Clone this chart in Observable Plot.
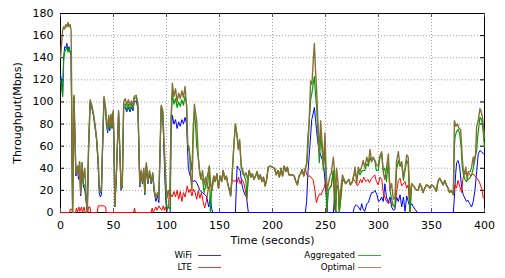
<!DOCTYPE html>
<html><head><meta charset="utf-8">
<script src="https://cdn.jsdelivr.net/npm/d3@7"></script>
<script src="https://cdn.jsdelivr.net/npm/@observablehq/plot@0.6"></script>
<style>
body{margin:0;background:#fff;}
#chart{width:505px;height:278px;position:relative;font-family:"DejaVu Sans",sans-serif;background:#fff;}
#chart svg{display:block;}
</style>
</head><body><div id="chart"></div>
<script>
const xTicks = [0, 50, 100, 150, 200, 250, 300, 350, 400];
const yTicks = [0, 20, 40, 60, 80, 100, 120, 140, 160, 180];
const seriesNames = ["WiFi", "LTE", "Aggregated", "Optimal"];
const seriesColors = ["#0000ff", "#ff0000", "#00a000", "#857035"];
const xLabel = "Time (seconds)";
const yLabel = "Throughput(Mbps)";

// [time, Mbps] pairs, flat
const wifi = [0,125, 1,118, 2,106, 3,140, 4,150, 5,149, 6,153, 7,147, 8,150, 9,145, 10,142, 11.3,0, 12.7,104, 14.5,33, 16,40, 17,30, 18,44, 19,15, 20.3,42, 21.5,24, 23,20, 24.2,10, 25.3,0, 26.5,58, 28,100, 29.5,95, 31,88, 32.5,78, 34,66, 35.5,43, 36.5,18, 37.6,14, 38.6,16, 39.5,50, 41,102, 42.5,92, 43.5,78, 44.5,72, 45.5,84, 46.5,74, 47.6,86, 48.6,76, 49.7,90, 50.3,68, 50.8,36, 51.2,5, 52.5,28, 53.6,58, 54.8,90, 56,53, 57.2,20, 58.3,23, 59.6,96, 61,95, 62.5,91, 64,95, 65.5,91, 67,95, 68.5,92, 69.5,100, 71.5,101, 73,94, 74,57, 74.8,23, 76,36, 77.3,26, 78.5,38, 79.5,16, 81,43, 82.5,26, 84,36, 85.5,26, 87,33, 88.5,18, 90,10, 91.5,15, 92.8,9, 94,57, 95,94, 96.5,88, 97.5,60, 98.5,30, 99.5,8, 100.5,0, 103.5,0, 104.3,70, 105.5,88, 107,80, 108.5,84, 110,76, 111.5,82, 113,78, 114.5,84, 116,80, 117.5,86, 119,80, 120.6,40, 122,34, 123.5,30, 125,28, 127,29, 129,26, 131.5,20, 134,18, 136.5,16, 138,14, 139.8,5, 141.4,14, 142.5,4, 143.6,0, 165,0, 166.6,42, 168,40, 169.5,38, 171,26, 172.5,20, 174,16, 175.5,14, 177.2,0, 231,0, 232.2,10, 233.5,37, 235.3,60, 237,84, 238.5,90, 239.5,95, 240.5,85, 241.5,75, 242.5,66, 243.7,57, 245.4,52, 247,48, 248.5,40, 250.5,18, 251.5,3, 252,0, 257.5,0, 258.5,14, 259.6,2, 260.5,0, 276,0, 277.3,5, 279,7, 281,5, 283,2, 284.1,8, 285.5,3, 287,1, 289,8, 290.5,9, 292,14, 293.5,18, 295,18, 296.7,20, 298.5,16, 300,10, 301.5,11, 303,14, 304.5,10, 306,26, 307.5,14, 309.3,9, 310.8,14, 312.4,5, 314,2, 315.5,3, 317,14, 318.7,10, 320.3,16, 321.9,5, 323.5,14, 325,1, 326.6,15, 328,10, 329.7,5, 331.3,8, 333,5, 334.5,3, 336.5,0, 370.6,0, 371.6,14, 372.8,35, 373.7,45, 375,47, 376.5,42, 378.5,22, 380,16, 381.5,13, 383,10, 384.5,11, 386,8, 387.8,5, 389.4,10, 391,20, 392.6,37, 394.1,53, 395.7,56, 397.3,55, 398.9,53, 400,53];

const lte = [0,0, 8.5,0, 9.2,3, 10.5,3, 11.3,0, 14.2,0, 15,4, 16,0, 17.3,5, 18.3,1, 19.8,5, 20.8,0, 22.3,5, 23.3,0, 25.8,0, 26.4,5, 27.8,5, 28.4,0, 34.6,0, 35.6,6, 37,6, 41,6, 42.5,5, 43.2,0, 69,0, 69.8,4, 70.6,0, 85.5,0, 86.5,4, 87.5,0, 89,3, 90,5, 91,2, 92,4, 93,6, 94,4, 95.5,2, 97,6, 98,2, 99,5, 100,1, 101,3, 102,8, 102.7,20, 104,17, 105.5,14, 107,19, 108.5,14, 110,20, 111.5,12, 113,19, 114.5,10, 116,18, 117.5,14, 119.6,24, 121,18, 122.5,21, 124,15, 125.5,21, 127,18, 128.5,12, 130,20, 131.5,13, 133,18, 134.7,9, 136,4, 137.5,10, 139.8,23, 141.4,26, 143,20, 144.5,33, 146,28, 147.5,35, 149,22, 150.5,33, 152,28, 153.5,38, 155,30, 156.5,33, 158,25, 159.5,20, 160.5,15, 162,30, 163.5,28, 165,29, 166.5,27, 168,32, 169.5,26, 171,30, 172.5,28, 174,22, 175.8,12, 177,30, 178,38, 179.5,32, 181,35, 182.5,30, 184,33, 185.5,37, 187,30, 188.5,34, 190,28, 191.5,32, 193,24, 194.5,30, 196,41, 198,42, 200,41, 202,40, 203.5,34, 205,38, 206.5,32, 208,40, 209.5,33, 211,42, 212.5,37, 214,41, 215.5,34, 217,34, 219,34, 220.5,33, 222,28, 223.5,25, 225,33, 226.5,35, 228,39, 229.5,33, 231,40, 232.2,34, 233.5,33, 235.3,33, 237,31, 238.5,29, 240,20, 241.4,9, 243,14, 244.5,17, 246,16, 247.5,20, 249,23, 250.5,30, 251.4,0, 252.5,20, 254,22, 255.5,25, 257.4,38, 258.5,4, 259.6,0, 260.5,25, 262,22, 263,0, 264.5,12, 266,30, 267.5,28, 269,26, 270.5,28, 272,30, 273.5,25, 275,27, 276.5,30, 278,28, 280,24, 281.5,26, 283,30, 284.5,27, 286,32, 288,28, 290,30, 291.5,27, 293,30, 294.5,32, 296.5,34, 298,28, 299.8,25, 301.4,32, 303,30, 304.5,18, 306,14, 307.5,10, 309.3,8, 311,10, 312.5,8, 314,6, 315.5,5, 317,18, 318.7,29, 320.3,31, 321.9,24, 323.5,26, 325,28, 326.6,22, 328,25, 329.7,0, 331.3,26, 333,24, 334.5,22, 336,20, 337.5,20, 339,26, 340.6,23, 342,18, 343.7,22, 345.3,25, 347,24, 348.5,22, 350,25, 351.6,24, 353,22, 354.6,19, 356,28, 357.7,31, 359.3,28, 361,25, 362.5,29, 364,25, 365.6,22, 367,18, 368.7,20, 370.6,16, 372.2,25, 373.5,22, 375,29, 376.5,24, 378.5,18, 379.5,30, 381.1,35, 383,35, 385,36, 387,33, 389,35, 391,33, 393,31, 395,28, 397.3,22, 398.9,13, 400,13];

const aggregated = [0,120, 1,115, 2,105, 3,138, 4,146, 5,147, 6,150, 7,145, 8,148, 9,146, 10,143, 11.5,0, 12.7,105, 14.5,36, 16,42, 17,35, 18,46, 19,18, 20.3,45, 21.5,26, 23,24, 24.2,12, 25.3,0, 26.5,59, 28,101, 29.5,96, 31,89, 32.5,79, 34,67, 35.5,47, 36.5,22, 37.6,18, 38.6,19, 39.5,52, 41,103, 42.5,94, 43.5,80, 44.5,74, 45.5,86, 46.5,76, 47.6,88, 48.6,77, 49.7,91, 50.3,69, 50.8,37, 51.2,6, 52.5,29, 53.6,59, 54.8,91, 56,54, 57.2,21, 58.3,24, 59.6,98, 61,98, 62.5,93, 64,98, 65.5,93, 67,98, 68.5,94, 69.5,103, 71.5,104, 73,96, 74,58, 74.8,24, 76,37, 77.3,27, 78.5,39, 79.5,17, 81,44, 82.5,27, 84,37, 85.5,27, 87,36, 88.5,19, 90,14, 91.5,17, 92.8,14, 94,60, 95,96, 96.5,90, 97.5,64, 98.5,40, 99.5,15, 100.5,3, 102,5, 103.5,3, 104.3,85, 105.5,108, 107,98, 108.5,103, 110,95, 111.5,100, 113,96, 114.5,102, 116,97, 117.5,105, 119,98, 120,60, 121.5,55, 123,45, 124,38, 125.3,80, 126.3,92, 127.5,78, 128.5,60, 130,50, 131.3,38, 132.5,32, 134,30, 135.5,18, 137,25, 138.5,33, 140.4,42, 141.4,0, 142.5,20, 143.6,26, 144.5,33, 146,28, 147.5,35, 149,22, 150.5,33, 152,28, 153.5,38, 155,30, 156.5,33, 158,25, 159.5,20, 160.5,15, 162,35, 163.5,60, 165,80, 166.5,70, 167.8,58, 169,64, 170.5,41, 172,35, 173.5,33, 175,28, 175.8,14, 177,30, 178,38, 179.5,32, 181,35, 182.5,30, 184,33, 185.5,37, 187,30, 188.5,34, 190,28, 191.5,32, 193,24, 194.5,30, 196,41, 198,42, 200,41, 202,40, 203.5,34, 205,38, 206.5,32, 208,40, 209.5,33, 211,42, 212.5,37, 214,41, 215.5,34, 217,34, 219,34, 220.5,33, 222,28, 223.5,25, 225,33, 226.5,35, 228,39, 229.5,33, 231,40, 232.2,44, 233.5,70, 234.5,80, 236,102, 237.2,108, 238.5,117, 239.5,123, 240.5,108, 241.5,97, 242.7,75, 244.2,45, 245.4,69, 247,55, 248,38, 249.5,59, 250.5,30, 251.4,0, 252.5,20, 254,22, 255.5,24, 257.4,38, 258.5,14, 259.6,0, 260.5,25, 262,22, 263,0, 264.5,15, 266,30, 267.5,30, 269,26, 270.5,28, 272,30, 273.5,25, 275,27, 276.5,33, 277.9,35, 279.5,32, 281,38, 282.5,34, 284,37, 285.5,38, 287,38, 289,44, 290.5,42, 292,50, 293.5,46, 295,50, 296.7,46, 298,38, 299.8,38, 301.4,50, 303,53, 304.5,38, 306,40, 307.5,28, 309.3,47, 310.8,20, 312.4,12, 314,6, 315.5,5, 317,38, 318.7,47, 320.3,42, 321.9,44, 323.5,29, 325,38, 326.6,47, 328,44, 329.7,0, 331.3,26, 333,24, 334.5,22, 336,20, 337.5,20, 339,26, 340.6,23, 342,18, 343.7,22, 345.3,25, 347,24, 348.5,22, 350,25, 351.6,24, 353,22, 354.6,19, 356,28, 357.7,31, 359.3,28, 361,25, 362.5,29, 364,25, 365.6,22, 367,18, 368.7,20, 370.6,16, 371.6,60, 372.2,68, 373.5,73, 375,75, 376.5,72, 378,59, 379,41, 380,35, 381.5,30, 383,28, 384.5,30, 386,31, 387.8,34, 389.4,40, 391,50, 392.6,56, 393.5,68, 395.7,86, 397.3,84, 398.9,72, 400,59];

const optimal = [0,140, 1,152, 2,165, 3,168, 4,166, 5,170, 6,168, 7,172, 8,168, 9,170, 10,165, 11.5,0, 12.7,106, 14.5,35, 16,42, 17,33, 18,46, 19,17, 20.3,45, 21.5,29, 23,40, 24.2,15, 25.3,2, 26.5,60, 28,102, 29.5,97, 31,90, 32.5,80, 34,68, 35.5,48, 36.5,26, 37.6,19, 38.6,20, 39.5,55, 41,105, 42.5,95, 43.5,82, 44.5,76, 45.5,88, 46.5,78, 47.6,89, 48.6,78, 49.7,92, 50.3,70, 50.8,38, 51.2,6, 52.5,30, 53.6,60, 54.8,92, 56,55, 57.2,22, 58.3,25, 59.6,100, 61,103, 62.5,97, 64,102, 65.5,97, 67,101, 68.5,96, 69.5,105, 71.5,106, 73,98, 74,60, 74.8,25, 76,38, 77.3,28, 78.5,40, 79.5,18, 81,45, 82.5,28, 84,38, 85.5,28, 87,35, 88.5,20, 90,13, 91.5,18, 92.8,12, 94,60, 95,97, 96.5,92, 97.5,68, 98.5,47, 99.5,26, 100.5,13, 101.7,20, 103,15, 104.3,80, 105.5,117, 107,105, 108.5,112, 110,100, 111.5,108, 113,103, 114.5,110, 116,104, 117.5,114, 119,95, 120,62, 121.5,58, 123,30, 124,20, 125,60, 126.3,98, 127.5,90, 128.5,83, 130,50, 131.3,35, 132.5,30, 134,38, 135.5,25, 137,32, 138.5,22, 140.4,42, 141.5,28, 143,20, 144.5,33, 146,28, 147.5,35, 149,22, 150.5,33, 152,28, 153.5,38, 155,30, 156.5,33, 158,25, 159.5,20, 160.5,15, 162,35, 163.5,60, 165,80, 166.5,70, 167.8,57, 169,66, 170.5,42, 172,38, 173.5,33, 175,36, 176.5,30, 178,38, 179.5,32, 181,35, 182.5,30, 184,33, 185.5,37, 187,30, 188.5,34, 190,28, 191.5,32, 193,24, 194.5,30, 196,41, 198,42, 200,41, 202,40, 203.5,34, 205,38, 206.5,32, 208,40, 209.5,33, 211,42, 212.5,37, 214,41, 215.5,34, 217,34, 219,34, 220.5,33, 222,28, 223.5,25, 225,33, 226.5,35, 228,39, 229.5,33, 231,40, 232.5,45, 233.5,60, 234.5,80, 236,119, 237.2,116, 238.5,138, 239.5,153, 240.5,130, 241.5,113, 242.7,85, 244.2,53, 245.4,83, 247,60, 248,42, 249.5,72, 250.5,40, 251.5,20, 252.5,25, 254,32, 255.5,36, 257.4,50, 258.5,38, 259.6,12, 260.5,40, 262,25, 263,10, 264.5,22, 266,34, 267.5,30, 269,26, 270.5,28, 272,30, 273.5,25, 275,27, 276.5,33, 277.9,41, 279.5,26, 281,41, 282.5,37, 284,41, 285.5,47, 287,41, 289,50, 290.5,44, 292,57, 293.5,46, 295,50, 296.7,47, 298,43, 299.8,42, 301,50, 303,55, 304.5,36, 306,30, 307.5,40, 309.3,53, 310.8,20, 312.4,26, 314,12, 315.5,13, 317,46, 318.7,55, 320.3,42, 321.9,46, 323.5,32, 325,40, 326.6,52, 328,50, 329.7,14, 331.3,26, 333,24, 334.5,22, 336,20, 337.5,20, 339,26, 340.6,23, 342,18, 343.7,22, 345.3,25, 347,24, 348.5,22, 350,25, 351.6,24, 353,22, 354.6,19, 356,28, 357.7,31, 359.3,28, 361,25, 362.5,29, 364,25, 365.6,22, 367,18, 368.7,20, 370.6,16, 371.6,83, 373,78, 374.5,80, 376,76, 377.5,75, 378.3,62, 379,50, 380,38, 381.1,35, 382.3,41, 383.6,30, 384.8,37, 386.5,37, 387.8,41, 389.4,50, 390.3,44, 391.6,53, 392.6,78, 394.1,83, 395.7,94, 396.6,92, 397.9,87, 398.9,78, 400,68];

function toRows(arr) {
  const out = [];
  for (let i = 0; i < arr.length; i += 2) out.push({t: arr[i], v: arr[i + 1]});
  return out;
}
const seriesData = [wifi, lte, aggregated, optimal].map(toRows);
const widths = [1, 1, 1.2, 1.4];

const plot = Plot.plot({
  width: 505, height: 250,
  marginLeft: 60, marginRight: 21, marginTop: 13, marginBottom: 38,
  style: {fontFamily: "DejaVu Sans", fontSize: "11px", color: "#000", background: "#fff"},
  x: {domain: [0, 400], ticks: xTicks, tickSize: 0, tickPadding: 9, label: null},
  y: {domain: [0, 180], ticks: yTicks, tickSize: 0, tickPadding: 7, label: null},
  marks: [
    Plot.ruleX(xTicks, {stroke: "#a0a0a0", strokeDasharray: "1,2"}),
    Plot.ruleY(yTicks, {stroke: "#a0a0a0", strokeDasharray: "1,2"}),
    Plot.frame({stroke: "#000"}),
    Plot.tickX(xTicks, {x: d => d, insetTop: 195, stroke: "#555"}),
    Plot.tickX(xTicks, {x: d => d, insetBottom: 195, stroke: "#555"}),
    Plot.tickY(yTicks, {y: d => d, insetLeft: 420, stroke: "#000"}),
    Plot.tickY(yTicks, {y: d => d, insetRight: 420, stroke: "#000"}),
    ...seriesData.map((d, i) => Plot.line(d, {x: "t", y: "v", stroke: seriesColors[i], strokeWidth: widths[i], strokeLinejoin: "round"})),
    Plot.text([yLabel], {frameAnchor: "left", textAnchor: "middle", rotate: -90, dx: -43, text: d => d, fontSize: 11, fill: "#000"}),
    Plot.text([xLabel], {frameAnchor: "bottom", textAnchor: "middle", dy: 31, text: d => d, fontSize: 11, fill: "#000"})
  ]
});
const chart = document.getElementById("chart");
chart.appendChild(plot);

// legend below the plot
const leg = d3.select(chart).append("svg").attr("width", 505).attr("height", 28);
const legendLayout = [
  {textRight: 192, x1: 198, x2: 221, y: 5},
  {textRight: 192, x1: 198, x2: 221, y: 17},
  {textRight: 355, x1: 358, x2: 381, y: 5},
  {textRight: 355, x1: 358, x2: 381, y: 17}
];
seriesNames.forEach((name, i) => {
  const L = legendLayout[i];
  leg.append("text").attr("x", L.textRight).attr("y", L.y).attr("dy", "0.35em")
    .attr("text-anchor", "end").attr("font-family", "DejaVu Sans").attr("font-size", 8.7)
    .attr("fill", "#000").text(name);
  leg.append("line").attr("x1", L.x1).attr("x2", L.x2).attr("y1", L.y + 0.5).attr("y2", L.y + 0.5)
    .attr("stroke", seriesColors[i]).attr("stroke-width", 1).attr("stroke-opacity", 0.8);
});
</script>
</body></html>
